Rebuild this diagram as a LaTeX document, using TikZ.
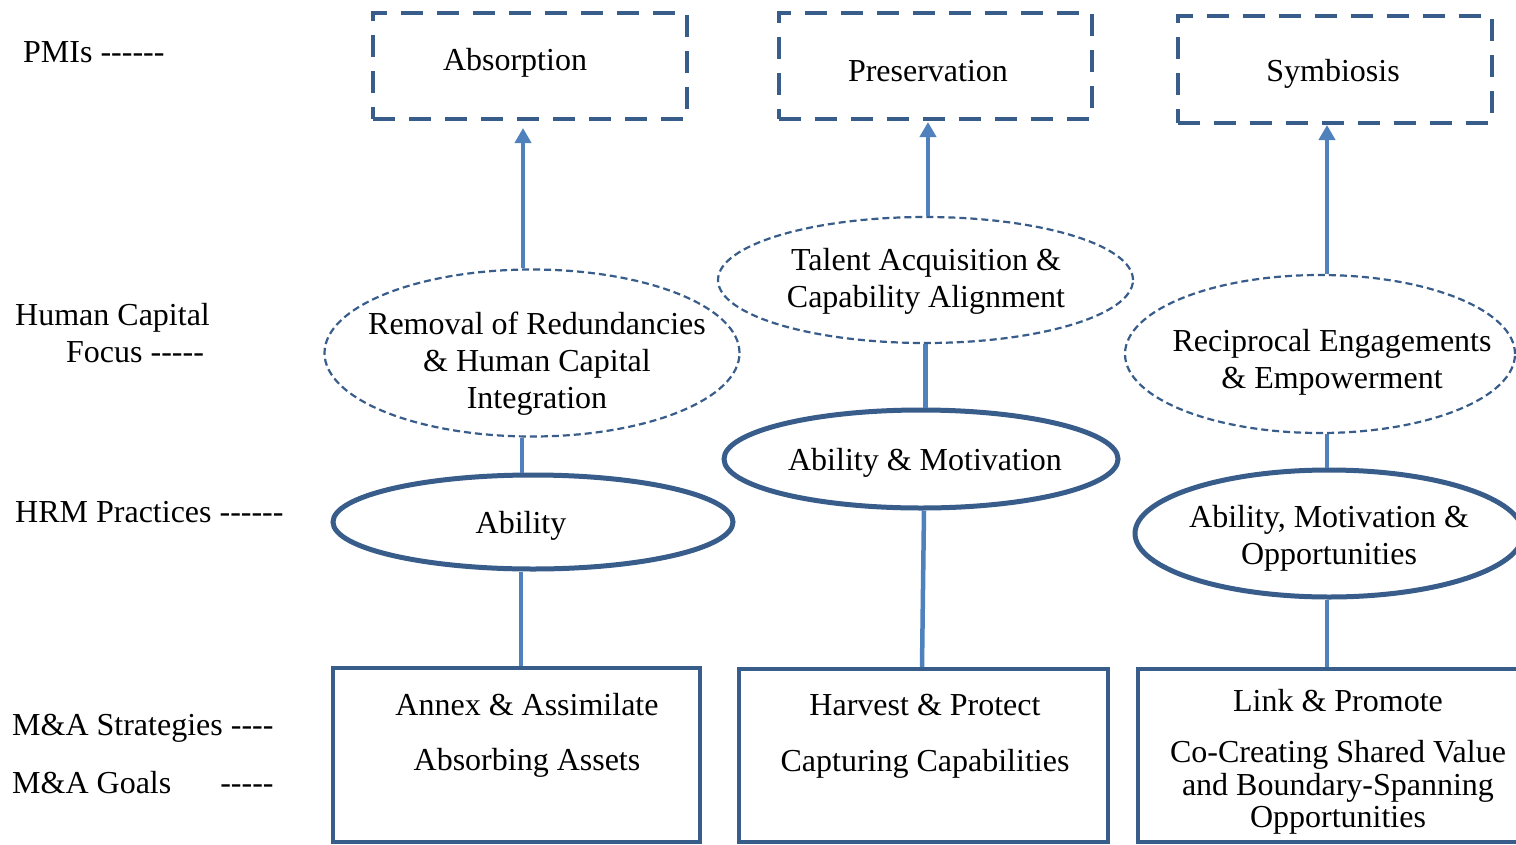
\documentclass[tikz,border=0pt]{standalone}
\usepackage{fontspec}
\setmainfont{Liberation Serif}[Ligatures=TeXOff]
\usetikzlibrary{shapes.geometric,arrows.meta}
\definecolor{bord}{RGB}{56,93,138}
\definecolor{conn}{RGB}{79,129,189}
\begin{document}
\begin{tikzpicture}[x=1pt,y=-1pt,
  font=\fontsize{32}{37}\selectfont,
  pmibox/.style={draw=bord, line width=4pt, dash pattern=on 22pt off 14pt, rectangle, inner sep=0pt},
  focus/.style={ellipse, draw=bord, line width=2.2pt, dash pattern=on 7pt off 4pt, inner sep=0pt},
  hrm/.style={ellipse, draw=bord, line width=5pt, inner sep=0pt},
  goalbox/.style={rectangle, draw=bord, line width=4pt, inner sep=0pt},
  link/.style={draw=conn, line width=4.5pt},
  uparrow/.style={link, -{Triangle[width=16pt,length=15pt]}},
  txt/.style={inner sep=0pt, align=center},
  lbl/.style={inner sep=0pt, anchor=west, align=left}]
\useasboundingbox (0,0) rectangle (1516,844);
\clip (0,0) rectangle (1516,844);
\fill[white] (0,0) rectangle (1516,844);

% PMI boxes
\node[pmibox, minimum width=314pt, minimum height=106pt] (p1) at (530,66) {};
\node[pmibox, minimum width=313pt, minimum height=106pt] (p2) at (935.5,66) {};
\node[pmibox, minimum width=314pt, minimum height=107pt] (p3) at (1335,69.5) {};
\node[txt] (tp1) at (515,63) {Absorption};
\node[txt] (tp2) at (928,71) {Preservation};
\node[txt] (tp3) at (1333,74) {Symbiosis};

% Human capital focus
\node[focus, minimum width=415pt, minimum height=167pt] (e1) at (532,353) {};
\node[focus, minimum width=415pt, minimum height=126pt] (e2) at (925.5,280) {};
\node[focus, minimum width=390pt, minimum height=158pt] (e3) at (1320,354) {};
\node[txt] (te1) at (537,364) {Removal of Redundancies\\\& Human Capital\\Integration};
\node[txt] (te2) at (926,281.5) {Talent Acquisition \&\\Capability Alignment};
\node[txt] (te3) at (1332,362.5) {Reciprocal Engagements\\\& Empowerment};

% HRM practices
\node[hrm, minimum width=400pt, minimum height=94pt] (s1) at (533,522) {};
\node[hrm, minimum width=394pt, minimum height=98pt] (s2) at (921,459) {};
\node[hrm, minimum width=388pt, minimum height=127pt] (s3) at (1329,533.5) {};
\node[txt] (ts1) at (521,526) {Ability};
\node[txt] (ts2) at (925,463) {Ability \& Motivation};
\node[txt] (ts3) at (1329,538.5) {Ability, Motivation \&\\Opportunities};

% M&A boxes
\node[goalbox, minimum width=367pt, minimum height=174pt] (b1) at (516.5,755) {};
\node[goalbox, minimum width=369pt, minimum height=173pt] (b2) at (923.5,755.5) {};
\node[goalbox, minimum width=392pt, minimum height=173pt] (b3) at (1334,755.5) {};
\node[txt] (tb1) at (527,735.5) {Annex \& Assimilate\\[18pt]Absorbing Assets};
\node[txt] (tb2) at (925,736.5) {Harvest \& Protect\\[19pt]Capturing Capabilities};
\node[txt, font=\fontsize{32}{32.5}\selectfont] (tb3) at (1338,762) {Link \& Promote\\[18.5pt]Co-Creating Shared Value\\and Boundary-Spanning\\Opportunities};

% connectors
\draw[uparrow, shorten >=7pt] ([xshift=-9pt]e1.north) -- ([xshift=-9pt]e1.north |- p1.south);
\draw[uparrow, shorten >=1pt] ([xshift=2.5pt]e2.north) -- ([xshift=2.5pt]e2.north |- p2.south);
\draw[uparrow, shorten >=0pt] ([xshift=7pt]e3.north) -- ([xshift=7pt]e3.north |- p3.south);
\draw[link] ([xshift=-10pt]e1.south) -- ([xshift=-10pt]e1.south |- s1.north);
\draw[link] ([xshift=-12pt]s1.south) -- ([xshift=-12pt]s1.south |- b1.north);
\draw[link] (e2.south) -- (e2.south |- s2.north);
\draw[link] ([xshift=3pt]s2.south) -- ([xshift=1pt]s2.south |- b2.north);
\draw[link] ([xshift=7pt]e3.south) -- ([xshift=7pt]e3.south |- s3.north);
\draw[link] ([xshift=-2pt]s3.south) -- ([xshift=-2pt]s3.south |- b3.north);

% left labels
\node[lbl] (l1) at (23,52) {PMIs ------};
\node[lbl] (l2) at (15,333) {Human Capital\\\hspace*{51pt}Focus -----};
\node[lbl] (l3) at (15,512) {HRM Practices ------};
\node[lbl] (l4) at (12,728) {M\&A Strategies ----};
\node[lbl] (l5) at (12,783) {M\&A Goals\hspace*{49pt}-----};
\end{tikzpicture}
\end{document}
